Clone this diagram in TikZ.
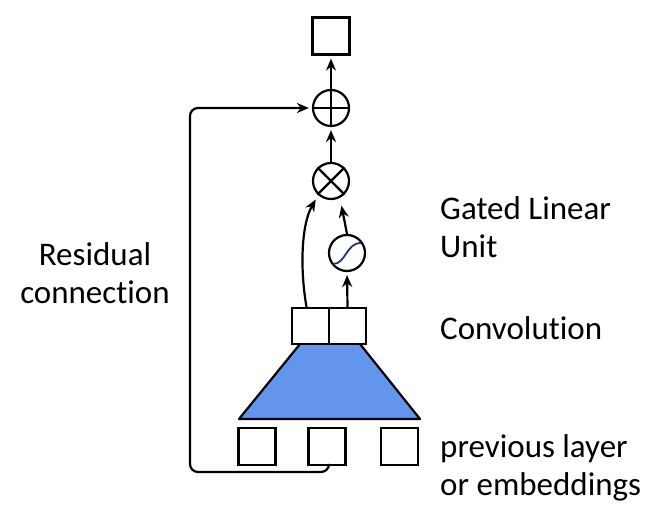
\documentclass[tikz,border=0pt]{standalone}
\usepackage{fontspec}
\setmainfont{Carlito}[Ligatures=NoCommon]
\usetikzlibrary{arrows.meta}
\definecolor{convblue}{RGB}{100,149,237}
\definecolor{sigblue}{RGB}{30,50,120}
\begin{document}
\begin{tikzpicture}[x=1pt,y=-1pt,
  box/.style={draw,line width=2.2pt,minimum width=37pt,minimum height=37pt,inner sep=0pt},
  op/.style={draw,circle,line width=2.2pt,minimum size=36pt,inner sep=0pt},
  arr/.style={line width=2.2pt,-{Stealth[length=12pt,width=10pt,inset=4pt]},shorten >=3pt},
  lbl/.style={font=\fontsize{33}{38}\selectfont,align=left,inner sep=0pt}]
\useasboundingbox (0,0) rectangle (667,518);
% trapezoid
\fill[convblue] (300,344) -- (360,344) -- (420,419) -- (239,419) -- cycle;
\draw[line width=2.2pt,line join=round] (300,344) -- (239,419) -- (420,419) -- (360,344);
% nodes
\node[box] (out) at (331,36) {};
\node[op] (plus) at (331,108) {};
\draw[line width=2.2pt] (plus.north) -- (plus.south) (plus.west) -- (plus.east);
\node[op] (times) at (331,181) {};
\draw[line width=2.2pt] (times.45) -- (times.225) (times.135) -- (times.-45);
\node[op] (sig) at (347,253) {};
\draw[sigblue,line width=1.8pt] (333,264) .. controls (346,264) and (346,243) .. (361,243);
\node[box,minimum height=36pt] (convL) at (310.5,326) {};
\node[box,minimum height=36pt] (convR) at (347.5,326) {};
\node[box] (in1) at (257,446.5) {};
\node[box] (in2) at (327,446.5) {};
\node[box] (in3) at (399.5,446.5) {};
% connectors
\draw[arr] (plus.north) -- (out.south);
\draw[arr] (times.north) -- (plus.south);
\draw[arr,shorten >=8pt] (sig.north) -- (times.-62);
\draw[arr,shorten >=5pt] ([xshift=-4pt]convL.north) .. controls (300,270) and (301,225) .. (times.-132);
\draw[arr,shorten >=3pt] (convR.north) -- (sig.south);
\draw[arr,rounded corners=8pt] ([xshift=2pt]in2.south) |- (190,472) |- (plus.west);
% labels
\node[lbl,anchor=base,align=center] (res) at (95,304) {Residual\\connection};
\node[lbl,anchor=base west] (glu) at (440,258) {Gated Linear\\Unit};
\node[lbl,anchor=base west] (conv) at (440,340) {Convolution};
\node[lbl,anchor=base west] (prev) at (440,496) {previous layer\\or embeddings};
\end{tikzpicture}
\end{document}
